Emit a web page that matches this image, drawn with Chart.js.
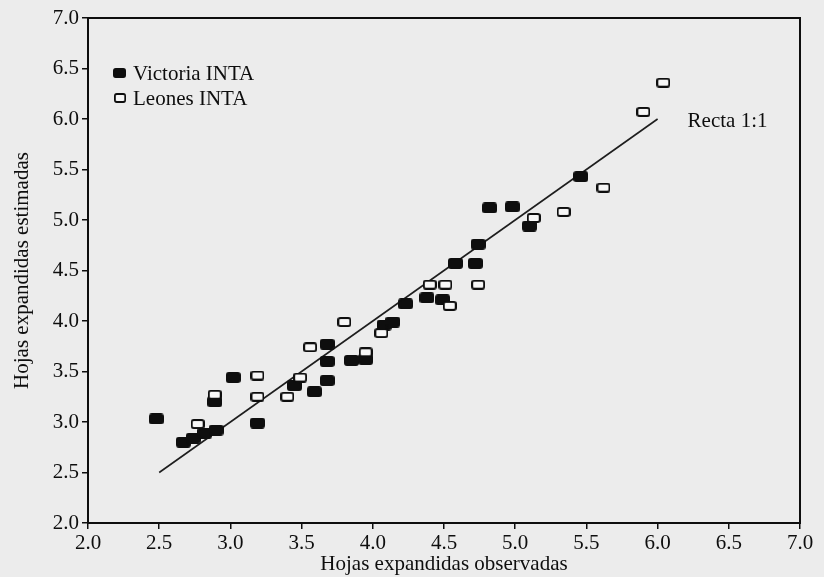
<!DOCTYPE html>
<html>
<head>
<meta charset="utf-8">
<script src="https://cdn.jsdelivr.net/npm/chart.js@4.4.1/dist/chart.umd.min.js"></script>
<style>
  html, body { margin: 0; padding: 0; background: #ececec; }
  #wrap { width: 824px; height: 577px; }
</style>
</head>
<body>
<div id="wrap"><canvas id="chart" width="824" height="577"></canvas></div>
<script>
// Observed vs. estimated expanded leaves, two cultivars
const victoriaObs = [2.48, 2.67, 2.74, 2.82, 2.90, 2.89, 3.02, 3.19, 3.45, 3.59, 3.68, 3.68, 3.68, 3.85, 3.95, 4.08, 4.14, 4.23, 4.38, 4.49, 4.58, 4.72, 4.74, 4.82, 4.98, 5.10, 5.46];
const victoriaEst = [3.03, 2.80, 2.84, 2.89, 2.92, 3.20, 3.44, 2.99, 3.36, 3.30, 3.41, 3.60, 3.77, 3.61, 3.62, 3.96, 3.99, 4.17, 4.23, 4.21, 4.57, 4.57, 4.76, 5.12, 5.13, 4.94, 5.43];

const leonesObs = [2.77, 2.89, 3.19, 3.19, 3.40, 3.49, 3.56, 3.80, 3.95, 4.06, 4.40, 4.51, 4.54, 4.74, 5.13, 5.34, 5.62, 5.90, 6.04];
const leonesEst = [2.98, 3.27, 3.25, 3.46, 3.25, 3.44, 3.74, 3.99, 3.69, 3.88, 4.36, 4.36, 4.15, 4.36, 5.02, 5.08, 5.32, 6.07, 6.36];

// 1:1 reference line end points
const lineX = [2.5, 6.0];
const lineY = [2.5, 6.0];

const tickValues = [2.0, 2.5, 3.0, 3.5, 4.0, 4.5, 5.0, 5.5, 6.0, 6.5, 7.0];
const seriesNames = ['Victoria INTA', 'Leones INTA'];
const lineLabel = 'Recta 1:1';
const xTitle = 'Hojas expandidas observadas';
const yTitle = 'Hojas expandidas estimadas';

const INK = '#0e0e0e';
const BG = '#ececec';
const SERIF = '"Liberation Serif", "Times New Roman", serif';

function makeMark(w, h, filled) {
  const c = document.createElement('canvas');
  c.width = w; c.height = h;
  const g = c.getContext('2d');
  g.lineWidth = 2;
  g.strokeStyle = INK;
  g.fillStyle = filled ? INK : '#f7f7f7';
  g.beginPath();
  if (g.roundRect) g.roundRect(1, 1, w - 2, h - 2, 2); else g.rect(1, 1, w - 2, h - 2);
  g.fill();
  g.stroke();
  return c;
}
const filledMark = makeMark(15, 11, true);
const openMark = makeMark(14, 10, false);

const toPts = (xs, ys) => xs.map((x, i) => ({ x, y: ys[i] }));

// Page background, frame, legend and 1:1 label
const decor = {
  id: 'decor',
  beforeDraw(chart) {
    const { ctx } = chart;
    ctx.save();
    ctx.fillStyle = BG;
    ctx.fillRect(0, 0, chart.width, chart.height);
    ctx.restore();
  },
  afterDraw(chart) {
    const { ctx, chartArea: a, scales } = chart;
    ctx.save();
    ctx.strokeStyle = INK;
    ctx.lineWidth = 2;
    ctx.strokeRect(a.left, a.top, a.right - a.left, a.bottom - a.top);

    // legend
    ctx.font = '21px ' + SERIF;
    ctx.fillStyle = INK;
    ctx.textBaseline = 'middle';
    ctx.textAlign = 'left';
    const lx = a.left + 32, ly = a.top + 55;
    ctx.drawImage(filledMark, lx - 7, ly - 5, 13, 10);
    ctx.fillText(seriesNames[0], lx + 13, ly + 1);
    ctx.drawImage(openMark, lx - 6, ly + 20, 12, 10);
    ctx.fillText(seriesNames[1], lx + 13, ly + 26);

    // 1:1 label next to the line end
    const ex = scales.x.getPixelForValue(lineX[1]);
    const ey = scales.y.getPixelForValue(lineY[1]);
    ctx.fillText(lineLabel, ex + 30, ey + 2);
    ctx.restore();
  }
};

const axisCommon = {
  type: 'linear',
  min: 2,
  max: 7,
  afterBuildTicks(scale) { scale.ticks = tickValues.map(v => ({ value: v })); },
  border: { display: true, color: INK, width: 2 },
  grid: { display: true, drawOnChartArea: false, drawTicks: true, tickLength: 6, color: INK, lineWidth: 1.5 },
};

new Chart(document.getElementById('chart'), {
  type: 'scatter',
  data: {
    datasets: [
      {
        label: seriesNames[1],
        data: toPts(leonesObs, leonesEst),
        pointStyle: openMark,
        pointRadius: 6,
        order: 0
      },
      {
        label: seriesNames[0],
        data: toPts(victoriaObs, victoriaEst),
        pointStyle: filledMark,
        pointRadius: 6,
        order: 1
      },
      {
        type: 'line',
        label: lineLabel,
        data: toPts(lineX, lineY),
        borderColor: '#1e1e1e',
        borderWidth: 1.6,
        pointRadius: 0,
        fill: false,
        order: 2
      }
    ]
  },
  options: {
    responsive: false,
    devicePixelRatio: 1,
    animation: false,
    layout: { padding: { left: 0, right: 24, top: 18, bottom: 0 } },
    plugins: {
      legend: { display: false },
      tooltip: { enabled: false }
    },
    scales: {
      x: Object.assign({}, axisCommon, {
        position: 'bottom',
        afterFit(scale) { scale.height = 54; },
        ticks: {
          color: INK, padding: 2, maxRotation: 0, autoSkip: false,
          font: { family: SERIF, size: 21 },
          callback: v => Number(v).toFixed(1)
        },
        title: {
          display: true, text: xTitle, color: INK,
          font: { family: SERIF, size: 21 },
          padding: { top: 0, bottom: 0 }
        }
      }),
      y: Object.assign({}, axisCommon, {
        position: 'left',
        afterFit(scale) { scale.width = 88; },
        ticks: {
          color: INK, padding: 3, autoSkip: false,
          font: { family: SERIF, size: 21 },
          callback: v => Number(v).toFixed(1)
        },
        title: {
          display: true, text: yTitle, color: INK,
          font: { family: SERIF, size: 21 },
          padding: { top: 10, bottom: 0 }
        }
      })
    }
  },
  plugins: [decor]
});
</script>
</body>
</html>
